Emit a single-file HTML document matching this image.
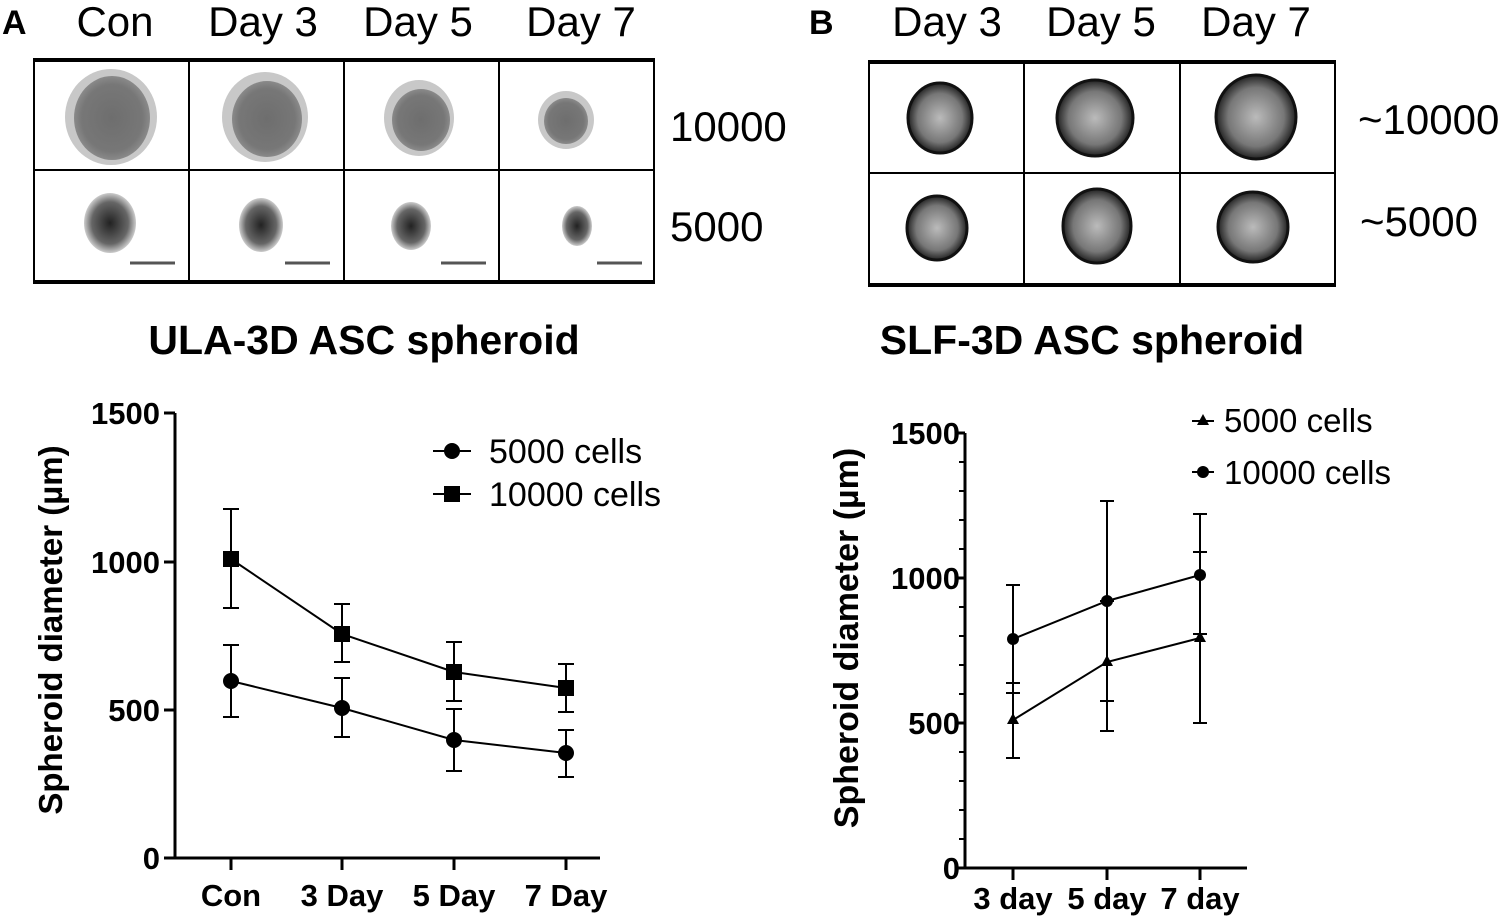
<!DOCTYPE html>
<html><head><style>
html,body{margin:0;padding:0;background:#fff;}
svg{display:block;font-family:"Liberation Sans",sans-serif;}
.b{font-weight:bold;}
</style></head><body>
<svg width="1504" height="919" viewBox="0 0 1504 919" xmlns="http://www.w3.org/2000/svg">
<defs>
<radialGradient id="g1"><stop offset="0" stop-color="#6e6e6e"/><stop offset="0.8" stop-color="#777"/><stop offset="1" stop-color="#8a8a8a"/></radialGradient>
<radialGradient id="g2"><stop offset="0" stop-color="#222"/><stop offset="0.7" stop-color="#666"/><stop offset="1" stop-color="#ccc"/></radialGradient>
<radialGradient id="g3"><stop offset="0" stop-color="#bbb"/><stop offset="0.7" stop-color="#777"/><stop offset="1" stop-color="#222"/></radialGradient>
</defs>
<!-- Panel A -->
<text x="2" y="34" class="b" font-size="34">A</text>
<g font-size="42" text-anchor="middle">
<text x="115" y="36">Con</text><text x="263" y="36">Day 3</text><text x="418" y="36">Day 5</text><text x="581" y="36">Day 7</text>
</g>
<g stroke="#000" fill="none">
<line x1="33" y1="60" x2="655" y2="60" stroke-width="4"/>
<line x1="33" y1="282" x2="655" y2="282" stroke-width="4"/>
<line x1="33" y1="170" x2="655" y2="170" stroke-width="2"/>
<g stroke-width="2"><line x1="34" y1="60" x2="34" y2="282"/><line x1="189" y1="60" x2="189" y2="282"/><line x1="344" y1="60" x2="344" y2="282"/><line x1="499" y1="60" x2="499" y2="282"/><line x1="654" y1="60" x2="654" y2="282"/></g>
</g>
<g>
<ellipse cx="111" cy="117" rx="46" ry="48" fill="#c8c8c8"/><ellipse cx="112" cy="118" rx="38" ry="42" fill="url(#g1)"/>
<ellipse cx="265" cy="117" rx="43" ry="45" fill="#c8c8c8"/><ellipse cx="267" cy="119" rx="35" ry="38" fill="url(#g1)"/>
<ellipse cx="419" cy="118" rx="35" ry="38" fill="#c8c8c8"/><ellipse cx="421" cy="120" rx="29" ry="31" fill="url(#g1)"/>
<ellipse cx="566" cy="120" rx="28" ry="29" fill="#c8c8c8"/><ellipse cx="566" cy="121" rx="22" ry="23" fill="url(#g1)"/>
<ellipse cx="110" cy="223" rx="26" ry="30" fill="url(#g2)"/>
<ellipse cx="261" cy="225" rx="22" ry="27" fill="url(#g2)"/>
<ellipse cx="411" cy="226" rx="20" ry="24" fill="url(#g2)"/>
<ellipse cx="577" cy="226" rx="15" ry="20" fill="url(#g2)"/>
<g stroke="#555" stroke-width="3"><line x1="130" y1="263" x2="175" y2="263"/><line x1="285" y1="263" x2="330" y2="263"/><line x1="441" y1="263" x2="486" y2="263"/><line x1="597" y1="263" x2="642" y2="263"/></g>
</g>
<g font-size="42"><text x="670" y="141">10000</text><text x="670" y="241">5000</text></g>

<!-- Panel B -->
<text x="809" y="34" class="b" font-size="34">B</text>
<g font-size="42" text-anchor="middle">
<text x="947" y="36">Day 3</text><text x="1101" y="36">Day 5</text><text x="1256" y="36">Day 7</text>
</g>
<g stroke="#000" fill="none">
<line x1="868" y1="62" x2="1336" y2="62" stroke-width="4"/>
<line x1="868" y1="285" x2="1336" y2="285" stroke-width="4"/>
<line x1="868" y1="173" x2="1336" y2="173" stroke-width="2"/>
<g stroke-width="2"><line x1="869" y1="62" x2="869" y2="285"/><line x1="1024" y1="62" x2="1024" y2="285"/><line x1="1180" y1="62" x2="1180" y2="285"/><line x1="1335" y1="62" x2="1335" y2="285"/></g>
</g>
<g stroke="#111" stroke-width="3">
<ellipse cx="940" cy="118" rx="32" ry="35" fill="url(#g3)"/>
<ellipse cx="1095" cy="118" rx="38" ry="38" fill="url(#g3)"/>
<ellipse cx="1256" cy="117" rx="40" ry="42" fill="url(#g3)"/>
<ellipse cx="937" cy="228" rx="30" ry="32" fill="url(#g3)"/>
<ellipse cx="1097" cy="226" rx="34" ry="37" fill="url(#g3)"/>
<ellipse cx="1253" cy="227" rx="35" ry="35" fill="url(#g3)"/>
</g>
<g font-size="42"><text x="1358" y="134">~10000</text><text x="1360" y="236">~5000</text></g>

<!-- Titles -->
<text x="364" y="354" class="b" font-size="41" text-anchor="middle">ULA-3D ASC spheroid</text>
<text x="1092" y="354" class="b" font-size="41" text-anchor="middle">SLF-3D ASC spheroid</text>

<!-- Chart A -->
<g stroke="#000" stroke-width="3" fill="none">
<line x1="175" y1="413" x2="175" y2="859"/>
<line x1="174" y1="858" x2="600" y2="858"/>
<line x1="164" y1="413" x2="175" y2="413"/><line x1="164" y1="562" x2="175" y2="562"/><line x1="164" y1="710" x2="175" y2="710"/><line x1="164" y1="858" x2="175" y2="858"/>
<line x1="231" y1="858" x2="231" y2="870"/><line x1="342" y1="858" x2="342" y2="870"/><line x1="454" y1="858" x2="454" y2="870"/><line x1="566" y1="858" x2="566" y2="870"/>
</g>
<g class="b" font-size="31" text-anchor="end"><text x="160" y="424">1500</text><text x="160" y="573">1000</text><text x="160" y="721">500</text><text x="160" y="869">0</text></g>
<g class="b" font-size="31" text-anchor="middle"><text x="231" y="906">Con</text><text x="342" y="906">3 Day</text><text x="454" y="906">5 Day</text><text x="566" y="906">7 Day</text></g>
<text transform="translate(62,630) rotate(-90)" class="b" font-size="33" text-anchor="middle">Spheroid diameter (µm)</text>
<g stroke="#000" stroke-width="2" fill="none">
<path d="M231 509V608M223 509H239M223 608H239"/>
<path d="M342 604V662M334 604H350M334 662H350"/>
<path d="M454 642V701M446 642H462M446 701H462"/>
<path d="M566 664V712M558 664H574M558 712H574"/>
<path d="M231 645V717M223 645H239M223 717H239"/>
<path d="M342 678V737M334 678H350M334 737H350"/>
<path d="M454 709V771M446 709H462M446 771H462"/>
<path d="M566 730V777M558 730H574M558 777H574"/>
<polyline points="231,681 342,708 454,740 566,753"/>
<polyline points="231,559 342,634 454,672 566,688"/>
</g>
<g fill="#000">
<circle cx="231" cy="681" r="8"/><circle cx="342" cy="708" r="8"/><circle cx="454" cy="740" r="8"/><circle cx="566" cy="753" r="8"/>
<rect x="223" y="551" width="16" height="16"/><rect x="334" y="626" width="16" height="16"/><rect x="446" y="664" width="16" height="16"/><rect x="558" y="680" width="16" height="16"/>
</g>
<g stroke="#000" stroke-width="2"><line x1="433" y1="451" x2="471" y2="451"/><line x1="433" y1="494" x2="471" y2="494"/></g>
<circle cx="452" cy="451" r="8"/><rect x="444" y="486" width="16" height="16"/>
<g font-size="34"><text x="489" y="463">5000 cells</text><text x="489" y="506">10000 cells</text></g>

<!-- Chart B -->
<g stroke="#000" stroke-width="3" fill="none">
<line x1="965" y1="433" x2="965" y2="869"/>
<line x1="964" y1="868" x2="1247" y2="868"/>
<line x1="955" y1="433" x2="965" y2="433"/><line x1="955" y1="578" x2="965" y2="578"/><line x1="955" y1="723" x2="965" y2="723"/><line x1="955" y1="868" x2="965" y2="868"/>
<line x1="1013" y1="868" x2="1013" y2="880"/><line x1="1107" y1="868" x2="1107" y2="880"/><line x1="1200" y1="868" x2="1200" y2="880"/>
</g>
<g stroke="#000" stroke-width="2">
<line x1="959" y1="462" x2="965" y2="462"/><line x1="959" y1="491" x2="965" y2="491"/><line x1="959" y1="520" x2="965" y2="520"/><line x1="959" y1="549" x2="965" y2="549"/>
<line x1="959" y1="607" x2="965" y2="607"/><line x1="959" y1="636" x2="965" y2="636"/><line x1="959" y1="665" x2="965" y2="665"/><line x1="959" y1="694" x2="965" y2="694"/>
<line x1="959" y1="752" x2="965" y2="752"/><line x1="959" y1="781" x2="965" y2="781"/><line x1="959" y1="810" x2="965" y2="810"/><line x1="959" y1="839" x2="965" y2="839"/>
</g>
<g class="b" font-size="31" text-anchor="end"><text x="960" y="444">1500</text><text x="960" y="589">1000</text><text x="960" y="734">500</text><text x="960" y="879">0</text></g>
<g class="b" font-size="31" text-anchor="middle"><text x="1013" y="909">3 day</text><text x="1107" y="909">5 day</text><text x="1200" y="909">7 day</text></g>
<text transform="translate(858,638) rotate(-90)" class="b" font-size="34" text-anchor="middle">Spheroid diameter (µm)</text>
<g stroke="#000" stroke-width="2" fill="none">
<path d="M1013 585V693M1006 585H1020M1006 693H1020"/>
<path d="M1013 683V758M1006 683H1020M1006 758H1020"/>
<path d="M1107 501V701M1100 501H1114M1100 701H1114"/>
<path d="M1107 601V731M1100 601H1114M1100 731H1114"/>
<path d="M1200 514V552M1193 514H1207M1193 552H1207M1200 552V723M1193 723H1207"/>
<line x1="1193" y1="634" x2="1207" y2="634"/>
<polyline points="1013,639 1107,601 1200,575"/>
<polyline points="1013,720 1107,662 1200,638"/>
</g>
<g fill="#000">
<circle cx="1013" cy="639" r="6"/><circle cx="1107" cy="601" r="6"/><circle cx="1200" cy="575" r="6"/>
<polygon points="1013,713 1019,724 1007,724"/><polygon points="1107,655 1113,666 1101,666"/><polygon points="1200,631 1206,642 1194,642"/>
</g>
<g stroke="#000" stroke-width="2"><line x1="1192" y1="421" x2="1214" y2="421"/><line x1="1192" y1="472" x2="1214" y2="472"/></g>
<polygon points="1203,414 1209,425 1197,425"/><circle cx="1203" cy="472" r="6"/>
<g font-size="33"><text x="1224" y="432">5000 cells</text><text x="1224" y="484">10000 cells</text></g>
</svg>
</body></html>
